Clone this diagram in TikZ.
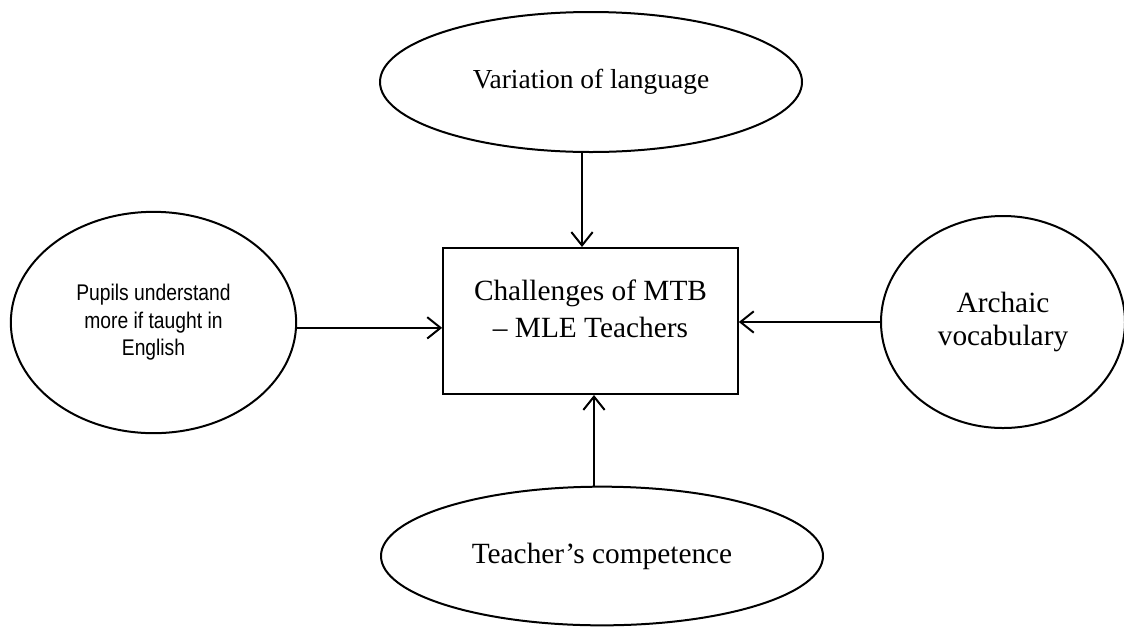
\documentclass[tikz,border=0pt]{standalone}
\usepackage{fontspec}
\setmainfont{Liberation Serif}
\newfontfamily\narrowsans[FakeStretch=0.85]{Liberation Sans}
\usetikzlibrary{shapes.geometric,arrows.meta}

\tikzset{
  oval/.style={ellipse, draw, line width=1.5pt, inner sep=0pt, align=center, font=\fontsize{22}{25}\selectfont},
  box/.style={rectangle, draw, line width=1.5pt, inner sep=0pt, align=center, font=\fontsize{22}{27.5}\selectfont},
  flow/.style={line width=1.5pt, -{Straight Barb[length=10pt,width=16pt,line width=1.5pt]}}
}

\begin{document}
\begin{tikzpicture}[x=0.75pt,y=0.75pt,yscale=-1,xscale=1]
\useasboundingbox (0,0) rectangle (1124,626);
%Shape: Rectangle [id:challenge]
\node [box, minimum width=221pt, minimum height=109.5pt, text depth=19pt] (challenge) at (590.5,321) {Challenges of MTB\\ -- MLE Teachers};
%Shape: Ellipse [id:variation]
\node [oval, minimum width=316.5pt, minimum height=105pt, font=\fontsize{20.6}{25}\selectfont] (variation) at (591,82) {Variation of language};
%Shape: Ellipse [id:pupils]
\node [oval, minimum width=214pt, minimum height=166pt, font=\narrowsans\fontsize{17}{20.6}\selectfont] (pupils) at (153.5,322.5) {Pupils understand\\ more if taught in\\ English};
%Shape: Ellipse [id:archaic]
\node [oval, minimum width=183pt, minimum height=159pt] (archaic) at (1003,322) {Archaic\\ vocabulary};
%Shape: Ellipse [id:competence]
\node [oval, minimum width=331.5pt, minimum height=104pt] (competence) at (602,556) {Teacher's competence};

%Straight Lines
\draw [flow] ([xshift=-6.75pt]variation.south) -- ([xshift=-6.75pt]variation.south |- challenge.north);
\draw [flow] ([yshift=4pt]pupils.east) -- ([yshift=4pt]pupils.east -| challenge.west);
\draw [flow] (archaic.west) -- (archaic.west -| challenge.east);
\draw [flow] ([xshift=-6pt]competence.north) -- ([xshift=-6pt]competence.north |- challenge.south);
\end{tikzpicture}
\end{document}
